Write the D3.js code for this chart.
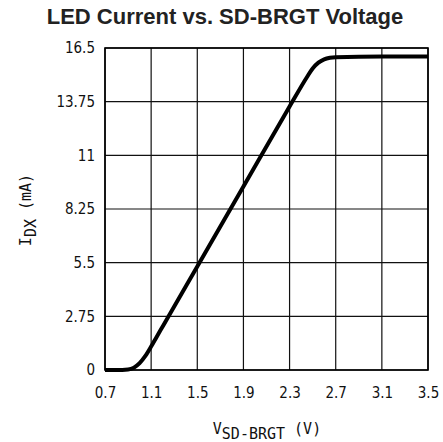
<!DOCTYPE html>
<html><head><meta charset="utf-8">
<script src="https://cdn.jsdelivr.net/npm/d3@7"></script>
<style>body{margin:0;background:#fff}svg{display:block}</style>
</head><body><svg id="c" width="443" height="442"></svg>
<script>
const voltage = [0.7, 0.8, 0.9, 0.95, 1.0, 1.05, 1.1, 1.15, 1.2, 1.25, 1.5, 1.9, 2.3, 2.45, 2.5, 2.55, 2.6, 2.65, 2.7, 3.1, 3.5];
const current = [0, 0, 0.03, 0.12, 0.35, 0.72, 1.2, 1.72, 2.23, 2.74, 5.3, 9.4, 13.5, 15.0, 15.45, 15.75, 15.92, 16.0, 16.03, 16.06, 16.06];
const xTicks = [0.7, 1.1, 1.5, 1.9, 2.3, 2.7, 3.1, 3.5];
const yTicks = [0, 2.75, 5.5, 8.25, 11, 13.75, 16.5];
const xTickLabels = ["0.7","1.1","1.5","1.9","2.3","2.7","3.1","3.5"];
const yTickLabels = ["0","2.75","5.5","8.25","11","13.75","16.5"];

const svg = d3.select("#c");
const L = 105, R = 428, T = 48, B = 370;
const x = d3.scaleLinear().domain([0.7, 3.5]).range([L, R]);
const y = d3.scaleLinear().domain([0, 16.5]).range([B, T]);
const tickFont = "'DejaVu Sans Condensed', 'DejaVu Sans', sans-serif";
const labelFont = "'DejaVu Sans Mono', monospace";

svg.append("text").attr("x", 225).attr("y", 24).attr("text-anchor", "middle")
  .attr("font-family", "'Liberation Sans', Arial, sans-serif").attr("font-weight", "bold")
  .attr("font-size", 22).attr("fill", "#222").text("LED Current vs. SD-BRGT Voltage");

// grid
const g = svg.append("g");
g.selectAll("line.v").data(xTicks).join("line").attr("class","v")
  .attr("x1", d => x(d)).attr("x2", d => x(d)).attr("y1", T).attr("y2", B)
  .attr("stroke", "#111").attr("stroke-width", 1.2);
g.selectAll("line.h").data(yTicks).join("line").attr("class","h")
  .attr("y1", d => y(d)).attr("y2", d => y(d)).attr("x1", L).attr("x2", R)
  .attr("stroke", "#111").attr("stroke-width", 1.2);
g.append("rect").attr("x", L).attr("y", T).attr("width", R - L).attr("height", B - T)
  .attr("fill", "none").attr("stroke", "#000").attr("stroke-width", 1.6);

const xAxis = svg.append("g").attr("transform", `translate(0,${B})`)
  .call(d3.axisBottom(x).tickValues(xTicks).tickFormat((d,i) => xTickLabels[i]).tickSize(0).tickPadding(17));
const yAxis = svg.append("g").attr("transform", `translate(${L},0)`)
  .call(d3.axisLeft(y).tickValues(yTicks).tickFormat((d,i) => yTickLabels[i]).tickSize(0).tickPadding(10));
[xAxis, yAxis].forEach(a => {
  a.select(".domain").remove();
  a.selectAll("text").attr("font-family", tickFont).attr("font-size", 15).attr("fill", "#111");
});

// curve
const line = d3.line().x((d,i) => x(voltage[i])).y((d,i) => y(d)).curve(d3.curveMonotoneX);
svg.append("path").datum(current).attr("d", line).attr("fill", "none")
  .attr("stroke", "#000").attr("stroke-width", 4).attr("stroke-linejoin", "round");

// x label
const xl = svg.append("text").attr("x", 267).attr("y", 434).attr("text-anchor", "middle")
  .attr("font-family", labelFont).attr("font-size", 15).attr("fill", "#111");
xl.append("tspan").text("V");
xl.append("tspan").attr("dy", 5).text("SD-BRGT");
xl.append("tspan").attr("dy", -5).text(" (V)");

// y label
const yl = svg.append("text").attr("transform", `translate(31,210) rotate(-90)`).attr("text-anchor", "middle")
  .attr("font-family", labelFont).attr("font-size", 15).attr("fill", "#111");
yl.append("tspan").text("I");
yl.append("tspan").attr("dy", 5).text("DX");
yl.append("tspan").attr("dy", -5).text(" (mA)");
</script></body></html>
